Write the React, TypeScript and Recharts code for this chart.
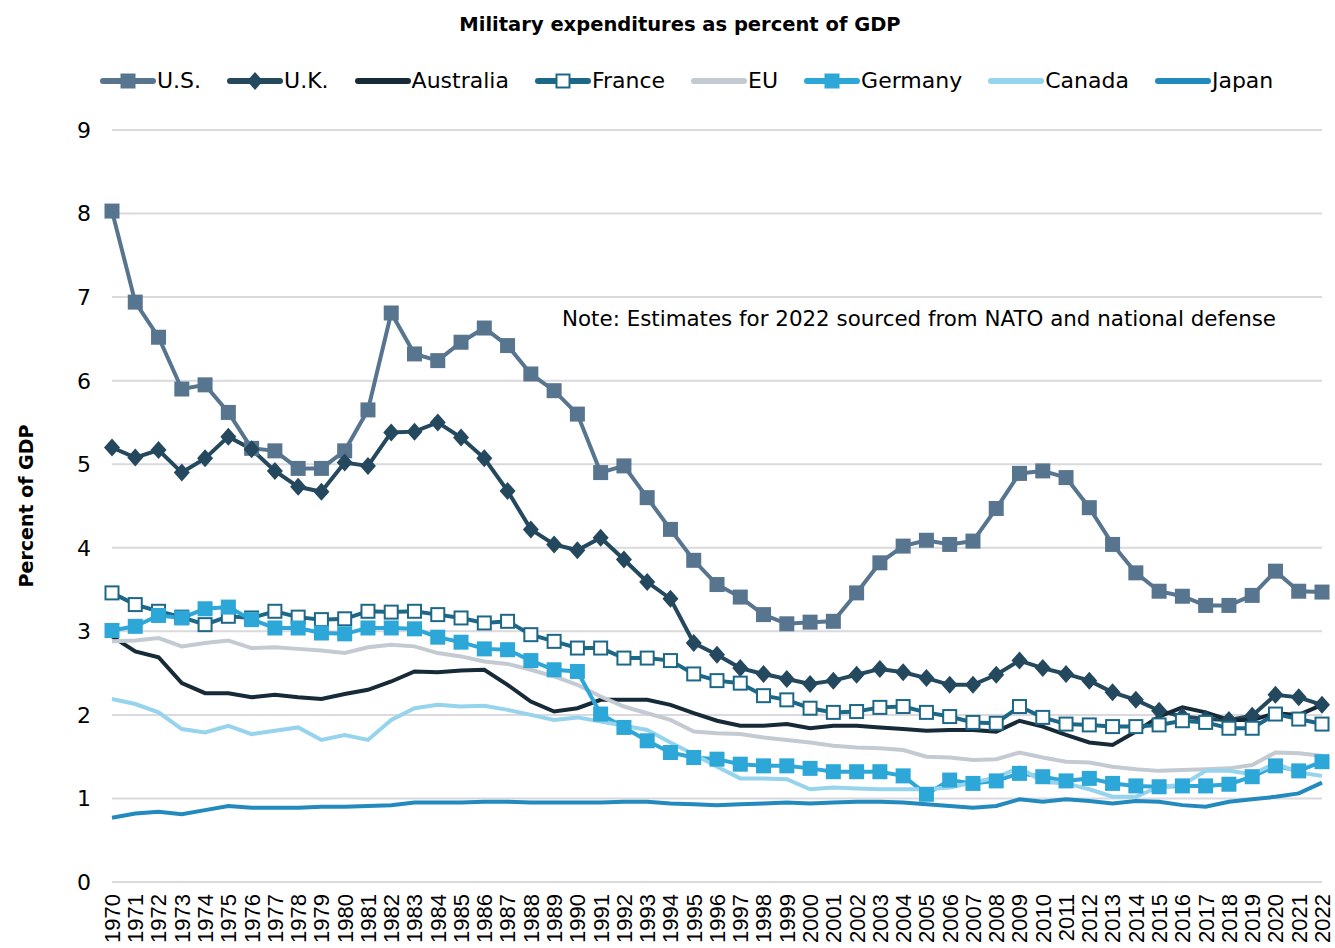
import React from "react";
import { LineChart, Line, XAxis, YAxis, CartesianGrid } from "recharts";

const years = [
  1970, 1971, 1972, 1973, 1974, 1975, 1976, 1977, 1978, 1979,
  1980, 1981, 1982, 1983, 1984, 1985, 1986, 1987, 1988, 1989,
  1990, 1991, 1992, 1993, 1994, 1995, 1996, 1997, 1998, 1999,
  2000, 2001, 2002, 2003, 2004, 2005, 2006, 2007, 2008, 2009,
  2010, 2011, 2012, 2013, 2014, 2015, 2016, 2017, 2018, 2019,
  2020, 2021, 2022,
];

const us = [
  8.03, 6.94, 6.52, 5.9, 5.95, 5.62, 5.19, 5.16, 4.95, 4.95,
  5.16, 5.65, 6.81, 6.32, 6.24, 6.46, 6.63, 6.42, 6.08, 5.88,
  5.6, 4.9, 4.98, 4.6, 4.22, 3.85, 3.56, 3.41, 3.2, 3.09,
  3.11, 3.12, 3.46, 3.82, 4.02, 4.09, 4.04, 4.08, 4.47, 4.89,
  4.92, 4.84, 4.48, 4.04, 3.7, 3.48, 3.42, 3.31, 3.31, 3.43,
  3.72, 3.48, 3.47,
];

const uk = [
  5.2, 5.08, 5.17, 4.9, 5.07, 5.33, 5.18, 4.92, 4.73, 4.67,
  5.02, 4.98, 5.38, 5.39, 5.5, 5.32, 5.07, 4.68, 4.22, 4.04,
  3.97, 4.12, 3.86, 3.59, 3.39, 2.86, 2.72, 2.56, 2.49, 2.43,
  2.37, 2.41, 2.48, 2.55, 2.51, 2.44, 2.36, 2.36, 2.48, 2.65,
  2.56, 2.49, 2.41, 2.27, 2.18, 2.05, 1.98, 1.95, 1.94, 1.99,
  2.24, 2.21, 2.12,
];

const australia = [
  2.94, 2.76, 2.69, 2.38, 2.26, 2.26, 2.21, 2.24, 2.21, 2.19,
  2.25, 2.3, 2.4, 2.52, 2.51, 2.53, 2.54, 2.36, 2.16, 2.04,
  2.08, 2.18, 2.18, 2.18, 2.12, 2.02, 1.93, 1.87, 1.87, 1.89,
  1.84, 1.87, 1.87, 1.85, 1.83, 1.81, 1.82, 1.82, 1.8, 1.93,
  1.86, 1.76, 1.67, 1.64, 1.8, 1.98, 2.09, 2.03, 1.94, 1.94,
  2.02, 2.0, 2.12,
];

const france = [
  3.46, 3.32, 3.24, 3.17, 3.08, 3.18, 3.16, 3.24, 3.17, 3.14,
  3.15, 3.24, 3.23, 3.24, 3.2, 3.16, 3.1, 3.12, 2.96, 2.88,
  2.8, 2.8, 2.68, 2.68, 2.65, 2.49, 2.41, 2.38, 2.23, 2.18,
  2.08, 2.03, 2.04, 2.09, 2.1, 2.03, 1.98, 1.91, 1.9, 2.1,
  1.97, 1.89, 1.88, 1.86, 1.86, 1.88, 1.93, 1.91, 1.84, 1.84,
  2.01, 1.95, 1.89,
];

const eu = [
  2.88, 2.89, 2.92, 2.82, 2.86, 2.89, 2.8, 2.81, 2.79, 2.77,
  2.74, 2.81, 2.84, 2.82, 2.74, 2.7, 2.64, 2.61, 2.54, 2.46,
  2.36, 2.22, 2.1, 2.02, 1.94, 1.8, 1.78, 1.77, 1.73, 1.7,
  1.67, 1.63, 1.61, 1.6, 1.58, 1.5, 1.49, 1.46, 1.47, 1.55,
  1.49, 1.44, 1.43, 1.38, 1.35, 1.33, 1.34, 1.35, 1.36, 1.4,
  1.55, 1.54, 1.51,
];

const germany = [
  3.01, 3.06, 3.19, 3.16, 3.27, 3.29, 3.14, 3.04, 3.04, 2.98,
  2.97, 3.04, 3.04, 3.03, 2.93, 2.87, 2.79, 2.78, 2.65, 2.54,
  2.52, 2.01, 1.85, 1.69, 1.55, 1.49, 1.47, 1.41, 1.39, 1.39,
  1.36, 1.32, 1.32, 1.32, 1.27, 1.05, 1.22, 1.18, 1.21, 1.3,
  1.26, 1.21, 1.24, 1.18, 1.15, 1.14, 1.15, 1.15, 1.17, 1.26,
  1.39, 1.33, 1.44,
];

const canada = [
  2.19, 2.13, 2.03, 1.83, 1.79, 1.87, 1.77, 1.81, 1.85, 1.7,
  1.76, 1.7, 1.94, 2.08, 2.12, 2.1, 2.11, 2.06, 2.0, 1.94,
  1.97, 1.92, 1.87, 1.82, 1.67, 1.53, 1.38, 1.24, 1.24, 1.23,
  1.11, 1.13, 1.12, 1.11, 1.11, 1.11, 1.13, 1.19, 1.25, 1.37,
  1.2, 1.18, 1.11, 1.02, 1.02, 1.14, 1.16, 1.33, 1.33, 1.29,
  1.42, 1.31, 1.27,
];

const japan = [
  0.77, 0.82, 0.84, 0.81, 0.86, 0.91, 0.89, 0.89, 0.89, 0.9,
  0.9, 0.91, 0.92, 0.95, 0.95, 0.95, 0.96, 0.96, 0.95, 0.95,
  0.95, 0.95, 0.96, 0.96, 0.94, 0.93, 0.92, 0.93, 0.94, 0.95,
  0.94, 0.95, 0.96, 0.96, 0.95, 0.93, 0.91, 0.89, 0.91, 0.99,
  0.96, 0.99, 0.97, 0.94, 0.97, 0.96, 0.92, 0.9, 0.96, 0.99,
  1.02, 1.06, 1.19,
];

const yTicks = [0, 1, 2, 3, 4, 5, 6, 7, 8, 9];

const data = years.map((year, i) => ({
  year: String(year),
  us: us[i],
  uk: uk[i],
  australia: australia[i],
  france: france[i],
  eu: eu[i],
  germany: germany[i],
  canada: canada[i],
  japan: japan[i],
}));

type Marker = "square" | "diamond" | "open" | "none";

const series: { key: string; name: string; color: string; marker: Marker }[] = [
  { key: "us", name: "U.S.", color: "#587590", marker: "square" },
  { key: "uk", name: "U.K.", color: "#24495e", marker: "diamond" },
  { key: "australia", name: "Australia", color: "#172a37", marker: "none" },
  { key: "france", name: "France", color: "#1d6787", marker: "open" },
  { key: "eu", name: "EU", color: "#c3cad2", marker: "none" },
  { key: "germany", name: "Germany", color: "#2da6d8", marker: "square" },
  { key: "canada", name: "Canada", color: "#96d3ec", marker: "none" },
  { key: "japan", name: "Japan", color: "#228abd", marker: "none" },
];

const FONT = "'DejaVu Sans', Verdana, sans-serif";

function markerShape(marker: Marker, color: string, cx: number, cy: number, key?: string) {
  if (marker === "square") {
    return <rect key={key} x={cx - 7.5} y={cy - 7.5} width={15} height={15} fill={color} />;
  }
  if (marker === "open") {
    return (
      <rect key={key} x={cx - 6.5} y={cy - 6.5} width={13} height={13} fill="#fff" stroke={color} strokeWidth={2} />
    );
  }
  if (marker === "diamond") {
    return (
      <polygon
        key={key}
        points={`${cx},${cy - 9} ${cx + 8},${cy} ${cx},${cy + 9} ${cx - 8},${cy}`}
        fill={color}
      />
    );
  }
  return <g key={key} />;
}

function makeDot(marker: Marker, color: string, name: string) {
  return (props: any) => {
    const { cx, cy, index } = props;
    if (cx == null || cy == null) return <g key={`${name}-${index}`} />;
    return markerShape(marker, color, cx, cy, `${name}-${index}`);
  };
}

function XTick({ x, y, payload }: any) {
  return (
    <text
      transform={`translate(${x},${y}) rotate(-90)`}
      textAnchor="end"
      dy="0.36em"
      fontSize={22}
      fontFamily="'Liberation Sans', Arial, sans-serif"
      fill="#000"
    >
      {payload.value}
    </text>
  );
}

function YTick({ x, y, payload }: any) {
  return (
    <text x={x - 20} y={y} dy="0.36em" textAnchor="middle" fontSize={22} fontFamily={FONT} fill="#000">
      {payload.value}
    </text>
  );
}

function YLabel({ viewBox }: any) {
  const cx = 26;
  const cy = viewBox.y + viewBox.height / 2;
  return (
    <text
      x={cx}
      y={cy}
      transform={`rotate(-90, ${cx}, ${cy})`}
      textAnchor="middle"
      dy="0.36em"
      fontSize={19}
      fontWeight="bold"
      fontFamily={FONT}
      fill="#000"
    >
      Percent of GDP
    </text>
  );
}

function LegendRow() {
  return (
    <div
      style={{
        position: "absolute",
        top: 68,
        left: 100,
        display: "flex",
        alignItems: "center",
        gap: 26,
        fontFamily: FONT,
        fontSize: 22,
        color: "#000",
        whiteSpace: "nowrap",
      }}
    >
      {series.map((s) => (
        <div key={s.key} style={{ display: "flex", alignItems: "center" }}>
          <svg width={57} height={24} style={{ display: "block" }}>
            <line x1={3} y1={12} x2={53} y2={12} stroke={s.color} strokeWidth={6} strokeLinecap="round" />
            {markerShape(s.marker, s.color, 28, 12)}
          </svg>
          <span>{s.name}</span>
        </div>
      ))}
    </div>
  );
}

export default function App() {
  return (
    <div style={{ position: "relative", width: 1335, height: 948, overflow: "hidden", background: "#fff" }}>
      <style>{`body { margin: 0; }`}</style>
      <div
        style={{
          position: "absolute",
          top: 13,
          left: 0,
          width: 1360,
          textAlign: "center",
          fontFamily: FONT,
          fontWeight: "bold",
          fontSize: 19.5,
          color: "#000",
        }}
      >
        Military expenditures as percent of GDP
      </div>
      <LegendRow />
      <LineChart
        width={1335}
        height={948}
        data={data}
        margin={{ top: 130, right: 13, bottom: 0, left: 0 }}
      >
        <CartesianGrid vertical={false} stroke="#d9d9de" strokeWidth={2} />
        <XAxis
          dataKey="year"
          interval={0}
          height={66}
          axisLine={false}
          tickLine={false}
          tickMargin={6}
          tick={<XTick />}
        />
        <YAxis
          domain={[0, 9]}
          ticks={yTicks}
          width={112}
          axisLine={false}
          tickLine={false}
          tick={<YTick />}
          label={<YLabel />}
        />
        {series.map((s) => (
          <Line
            key={s.key}
            type="linear"
            dataKey={s.key}
            name={s.name}
            stroke={s.color}
            strokeWidth={4}
            dot={s.marker === "none" ? false : makeDot(s.marker, s.color, s.key)}
            activeDot={false}
            isAnimationActive={false}
          />
        ))}
      </LineChart>
      <div
        style={{
          position: "absolute",
          top: 305,
          left: 562,
          fontFamily: FONT,
          fontSize: 21.4,
          lineHeight: "28px",
          color: "#000",
          whiteSpace: "nowrap",
        }}
      >
        Note: Estimates for 2022 sourced from NATO and national defense
      </div>
    </div>
  );
}
